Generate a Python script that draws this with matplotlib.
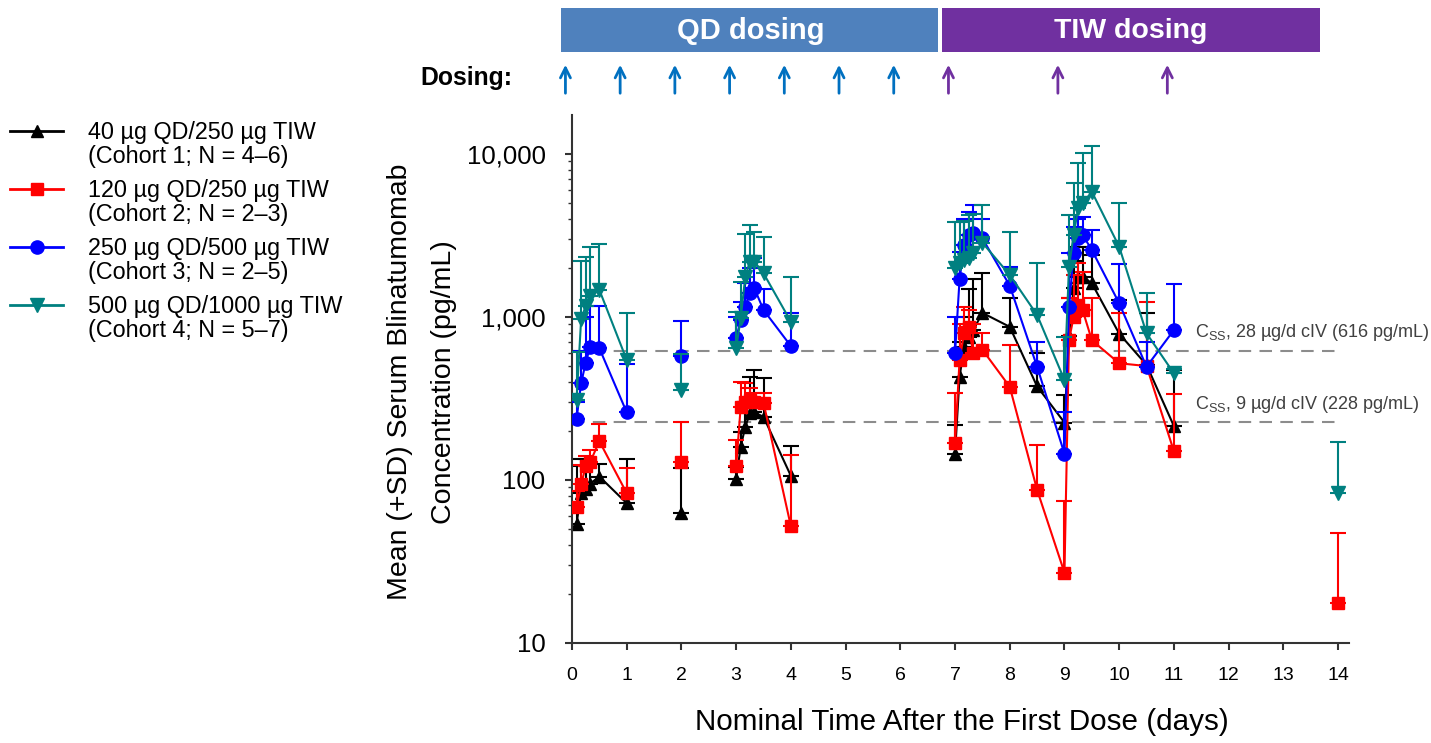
import numpy as np
import matplotlib
matplotlib.use("Agg")
import matplotlib.pyplot as plt
import matplotlib.transforms as mtransforms
from matplotlib.lines import Line2D
from matplotlib.patches import Rectangle
from matplotlib.ticker import FixedLocator, LogLocator, NullFormatter

plt.rcParams['font.family'] = ['Liberation Sans', 'DejaVu Sans']

# nominal sampling times (days)
times = [0.083, 0.167, 0.25, 0.333, 0.5, 1.0,
         2.0,
         3.0, 3.083, 3.167, 3.25, 3.333, 3.5, 4.0,
         7.0, 7.083, 7.167, 7.25, 7.333, 7.5, 8.0, 8.5, 9.0,
         9.083, 9.167, 9.25, 9.333, 9.5, 10.0, 10.5, 11.0,
         14.0]
# connected segments
segment = [0] * 6 + [1] + [2] * 7 + [3] * 17 + [4]

nan = np.nan
c1_mean = [54, 83, 88, 95, 105, 72,
           63,
           102, 160, 212, 256, 260, 244, 106,
           145, 430, 650, 750, 830, 1060, 870, 375, 225,
           760, 1500, 1750, 1770, 1610, 790, 508, 214,
           nan]
c1_top = [121, 134, 134, 125, 125, 134,
          119,
          120, 196, 300, 430, 473, 420, 162,
          217, 700, 1000, 1479, 1700, 1870, 1300, 600, 330,
          1300, 2200, 2700, 2700, 2400, 1271, 1053, 470,
          nan]

c2_mean = [68, 94, 121, 129, 173, 83,
           129,
           121, 282, 302, 310, 302, 298, 52,
           168, 545, 800, 870, 600, 630, 373, 87, 27,
           720, 1000, 1180, 1100, 720, 520, 500, 150,
           17.5]
c2_top = [85, 123, 140, 153, 221, 119,
          227,
          176, 401, 394, 366, 344, 340, 142,
          344, 900, 1157, 1100, 900, 800, 673, 164, 74,
          1300, 1800, 2133, 1900, 1300, 1062, 1240, 336,
          47]

c3_mean = [237, 392, 525, 658, 643, 260,
           577,
           740, 960, 1147, 1400, 1500, 1104, 663,
           598, 1702, 2766, 3186, 3288, 3041, 1556, 495, 145,
           1147, 2455, 3041, 3186, 2576, 1213, 495, 832,
           nan]
c3_top = [300, 620, 1000, 1170, 1170, 515,
          948,
          1000, 1241, 1610, 2000, 2300, 1479, 1060,
          1000, 2500, 4000, 4425, 4860, 3983, 2036, 707, 262,
          2478, 3580, 4000, 4100, 3400, 2113, 700, 1592,
          nan]

c4_mean = [310, 968, 1167, 1345, 1466, 545,
           357,
           643, 980, 1767, 2183, 2183, 1854, 936,
           1987, 2130, 2237, 2300, 2455, 2855, 1811, 1029, 410,
           2036, 3186, 4645, 4974, 5870, 2698, 794, 451,
           83]
c4_top = [613, 2213, 2340, 2700, 2805, 1058,
          590,
          1078, 1650, 3228, 3664, 3335, 3100, 1751,
          3800, 3800, 3900, 4200, 4300, 4860, 3335, 2133, 750,
          4227, 6607, 8770, 10100, 11250, 5023, 1397, 480,
          172]

labels = ['40 µg QD/250 µg TIW\n(Cohort 1; N = 4–6)',
          '120 µg QD/250 µg TIW\n(Cohort 2; N = 2–3)',
          '250 µg QD/500 µg TIW\n(Cohort 3; N = 2–5)',
          '500 µg QD/1000 µg TIW\n(Cohort 4; N = 5–7)']

css_levels = [616, 228]
css_labels = [r'C$_\mathregular{SS}$, 28 µg/d cIV (616 pg/mL)',
              r'C$_\mathregular{SS}$, 9 µg/d cIV (228 pg/mL)']

qd_days = [0, 1, 2, 3, 4, 5, 6]
tiw_days = [7, 9, 11]

colors = ['#000000', '#ff0000', '#0000ff', '#008080']
markers = ['^', 's', 'o', 'v']
msizes = [9, 8.5, 9.5, 10]

fig = plt.figure(figsize=(14.31, 7.43), dpi=100)
W, H = 1431, 743
ax = fig.add_axes([572 / W, 100 / H, 777 / W, 528 / H])

t = np.array(times)
seg = np.array(segment)
series = [(c1_mean, c1_top), (c2_mean, c2_top), (c3_mean, c3_top), (c4_mean, c4_top)]

for i, (m, top) in enumerate(series):
    m = np.array(m, dtype=float)
    top = np.array(top, dtype=float)
    ok = ~np.isnan(m)
    err = np.vstack([np.zeros(ok.sum()), top[ok] - m[ok]])
    ax.errorbar(t[ok], m[ok], yerr=err, fmt='none', ecolor=colors[i],
                elinewidth=1.5, capsize=6, capthick=1.5, zorder=2 + i)
    for s in np.unique(seg):
        k = (seg == s) & ok
        if k.sum() == 0:
            continue
        ax.plot(t[k], m[k], color=colors[i], lw=1.5, marker=markers[i],
                ms=msizes[i], mec=colors[i], zorder=2.5 + i)

for lev in css_levels:
    ax.axhline(lev, xmin=0, xmax=14 / 14.2, color='#8c8c8c', lw=1.5,
               dashes=(6, 4), zorder=1)
ax.text(11.39, 800, css_labels[0], fontsize=13, color='#404040', va='center')
ax.text(11.39, 290, css_labels[1], fontsize=13, color='#404040', va='center')

ax.set_yscale('log')
ax.set_ylim(10, 10 ** 4.239)
ax.set_xlim(0, 14.2)
ax.set_xticks(range(0, 15))
ax.yaxis.set_major_locator(FixedLocator([10, 100, 1000, 10000]))
ax.set_yticklabels(['10', '100', '1,000', '10,000'], fontsize=18.5)
ax.yaxis.set_minor_locator(LogLocator(base=10, subs=np.arange(2, 10)))
ax.yaxis.set_minor_formatter(NullFormatter())
for lab in ax.get_xticklabels():
    lab.set_fontsize(14)
ax.tick_params(axis='x', length=5, width=1.5, pad=12, color='#333333')
ax.tick_params(axis='y', which='major', length=5, width=1.5, pad=14, color='#333333')
ax.tick_params(axis='y', which='minor', length=3, width=1, color='#333333')
for sp in ['top', 'right']:
    ax.spines[sp].set_visible(False)
for sp in ['left', 'bottom']:
    ax.spines[sp].set_linewidth(1.5)
    ax.spines[sp].set_color('#333333')

fig.text(962 / W, 1 - 722 / H, 'Nominal Time After the First Dose (days)',
         fontsize=21.3, ha='center', va='center')
fig.text(422 / W, 1 - 382 / H, 'Mean (+SD) Serum Blinatumomab\nConcentration (pg/mL)',
         fontsize=20.5, ha='center', va='center', rotation=90,
         linespacing=1.9, multialignment='center')

# dosing bands and arrows
bt = mtransforms.blended_transform_factory(ax.transData, fig.transFigure)
fig.add_artist(Rectangle((-0.2, 1 - 52 / H), 6.89, 44 / H, transform=bt,
                         facecolor='#4f81bd', edgecolor='none'))
fig.add_artist(Rectangle((6.76, 1 - 52 / H), 6.91, 44 / H, transform=bt,
                         facecolor='#7030a0', edgecolor='none'))
fig.text(751 / W, 1 - 31 / H, 'QD dosing', fontsize=21,
         fontweight='bold', color='white', ha='center', va='center')
fig.text(1131 / W, 1 - 31 / H, 'TIW dosing', fontsize=20.5,
         fontweight='bold', color='white', ha='center', va='center')
fig.text(512 / W, 1 - 78 / H, 'Dosing:', fontsize=17.8,
         fontweight='bold', ha='right', va='center')

for days, col in [(qd_days, '#0070c0'), (tiw_days, '#7030a0')]:
    for d in days:
        ax.annotate('', xy=(d - 0.12, 1 - 62 / H), xytext=(d - 0.12, 1 - 96 / H),
                    xycoords=bt, textcoords=bt, annotation_clip=False,
                    arrowprops=dict(arrowstyle='->', color=col, lw=2,
                                    mutation_scale=18))

# legend
for i in range(4):
    yc = 132 + 58 * i
    fig.add_artist(Line2D([10 / W, 37 / W, 63 / W], [1 - (yc - 1) / H] * 3,
                          transform=fig.transFigure, color=colors[i], lw=2,
                          marker=markers[i], ms=msizes[i], markevery=[1]))
    fig.text(88 / W, 1 - (yc + 12.5) / H, labels[i], fontsize=16.8,
             ha='left', va='center', linespacing=1.05)

fig.savefig('out.png', dpi=100)
